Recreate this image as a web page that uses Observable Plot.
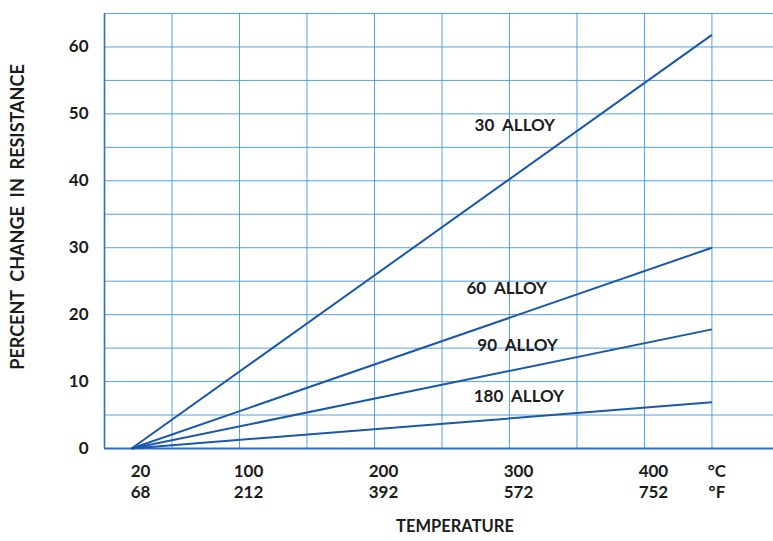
<!DOCTYPE html>
<html>
<head>
<meta charset="utf-8">
<script src="https://cdn.jsdelivr.net/npm/d3@7"></script>
<script src="https://cdn.jsdelivr.net/npm/@observablehq/plot@0.6"></script>
<style>
  html, body { margin: 0; padding: 0; background: #fff; }
  svg { display: block; }
</style>
</head>
<body>
<div id="chart"></div>
<script>
// ---- data ----
const alloys = ["30\u00a0\u00a0ALLOY", "60\u00a0\u00a0ALLOY", "90\u00a0\u00a0ALLOY", "180\u00a0\u00a0ALLOY"];
const startTemp = [20, 20, 20, 20];
const startPct = [0, 0, 0, 0];
const endTemp = [450, 450, 450, 450];
const endPct = [61.8, 30.0, 17.8, 6.9];
const labelTemp = [304, 298, 306, 307];
const labelPct = [48.2, 23.9, 15.4, 7.8];

const celsiusTicks = [20, 100, 200, 300, 400];
const fahrenheitTicks = [68, 212, 392, 572, 752];
const yTicks = [0, 10, 20, 30, 40, 50, 60];
const xGrid = d3.range(0, 500, 50);
const yGrid = d3.range(0, 66, 5);

const segs = alloys.map((a, i) => ({alloy: a, x1: startTemp[i], y1: startPct[i], x2: endTemp[i], y2: endPct[i]}));
const labels = alloys.map((a, i) => ({alloy: a, x: labelTemp[i], y: labelPct[i]}));

const gridColor = "#3b8fdc";
const lineColor = "#1a58a9";
const ink = "#1c1c1c";
const font = "Lato, 'DejaVu Sans', sans-serif";

const chart = Plot.plot({
  width: 773,
  height: 541,
  marginLeft: 104,
  marginRight: 0,
  marginTop: 13,
  marginBottom: 93,
  style: {fontFamily: font, background: "#fff", color: ink},
  x: {domain: [0, 495.6], axis: null},
  y: {domain: [0, 65], axis: null},
  marks: [
    Plot.ruleX(xGrid, {stroke: gridColor, strokeWidth: 1, strokeOpacity: 0.85}),
    Plot.ruleY(yGrid, {stroke: gridColor, strokeWidth: 1, strokeOpacity: 0.85}),
    Plot.ruleX([0], {stroke: "#2a73c4", strokeWidth: 1.6}),
    Plot.ruleY([0], {stroke: "#2a73c4", strokeWidth: 1.8}),
    Plot.link(segs, {x1: "x1", y1: "y1", x2: "x2", y2: "y2", stroke: lineColor, strokeWidth: 2}),
    Plot.text(labels, {x: "x", y: "y", text: "alloy", fontSize: 17, fontWeight: 700, fill: ink, textAnchor: "middle"}),
    Plot.text(yTicks, {x: 0, y: d => d, text: d => String(d), textAnchor: "end", dx: -16, fontSize: 17, fontWeight: 700, fill: ink}),
    Plot.text(celsiusTicks, {x: d => d, y: 0, text: d => String(d), dx: 9, dy: 23, fontSize: 17, fontWeight: 700, fill: ink}),
    Plot.text(fahrenheitTicks.map((f, i) => ({f, c: celsiusTicks[i]})), {x: "c", y: 0, text: d => String(d.f), dx: 9, dy: 44, fontSize: 17, fontWeight: 700, fill: ink}),
    Plot.text(["°C"], {x: 450, y: 0, text: d => d, dx: 5, dy: 23, fontSize: 17, fontWeight: 700, fill: ink}),
    Plot.text(["°F"], {x: 450, y: 0, text: d => d, dx: 5, dy: 44, fontSize: 17, fontWeight: 700, fill: ink}),
    Plot.text(["TEMPERATURE"], {frameAnchor: "bottom", textAnchor: "middle", dx: 16, dy: 83, text: d => d, fontSize: 16.5, fontWeight: 700, fill: ink}),
    Plot.text(["PERCENT\u00a0\u00a0CHANGE\u00a0\u00a0IN\u00a0\u00a0RESISTANCE"], {frameAnchor: "left", textAnchor: "middle", dx: -86, dy: -14, rotate: -90, text: d => d, fontSize: 18, fontWeight: 700, fill: ink})
  ]
});
document.getElementById("chart").appendChild(chart);
</script>
</body>
</html>
